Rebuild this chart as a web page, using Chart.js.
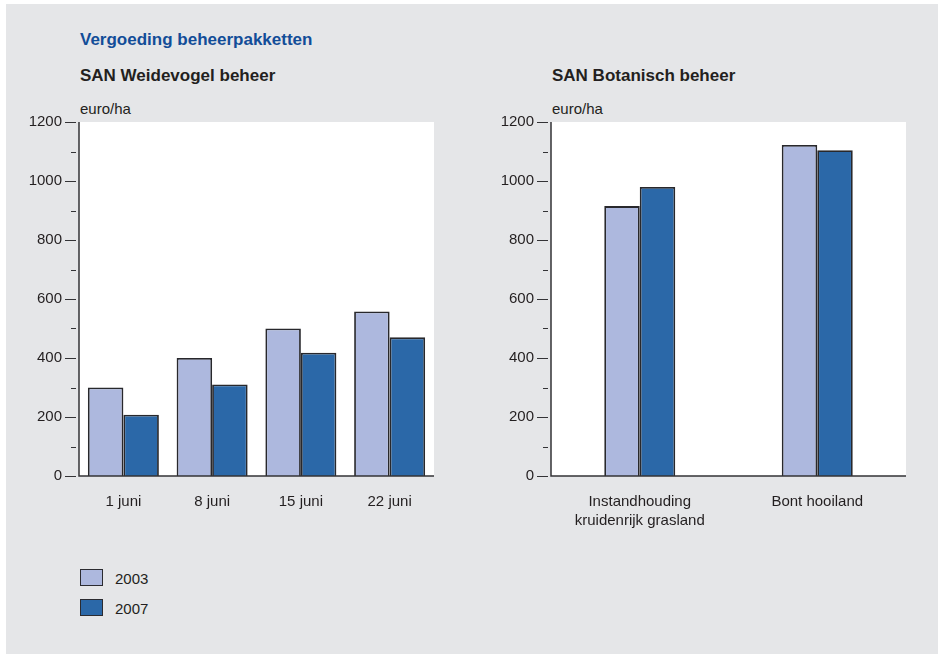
<!DOCTYPE html>
<html>
<head>
<meta charset="utf-8">
<script src="https://cdn.jsdelivr.net/npm/chart.js@4/dist/chart.umd.min.js"></script>
<style>
  body { margin: 0; background: #ffffff; width: 938px; height: 654px; overflow: hidden; font-family: "Liberation Sans", Arial, sans-serif; }
  #panel { position: absolute; left: 6px; top: 4px; width: 932px; height: 650px; background: #e5e6e8; }
  .txt { position: absolute; line-height: 1; white-space: nowrap; color: #231f20; }
  .title { font-size: 17px; font-weight: bold; color: #124d98; }
  .sub { font-size: 17px; font-weight: bold; }
  .unit { font-size: 15px; }
  canvas { position: absolute; }
  .box { position: absolute; width: 21px; height: 15px; border: 1.5px solid #2b2b30; }
</style>
</head>
<body>
<div id="panel"></div>
<div class="txt title" style="left:80px; top:31px;">Vergoeding beheerpakketten</div>
<div class="txt sub" style="left:80px; top:67px;">SAN Weidevogel beheer</div>
<div class="txt sub" style="left:552px; top:67px;">SAN Botanisch beheer</div>
<div class="txt unit" style="left:80px; top:101px;">euro/ha</div>
<div class="txt unit" style="left:552px; top:101px;">euro/ha</div>
<div style="position:absolute; left:0; top:100px; width:470px; height:440px;"><canvas id="weide"></canvas></div>
<div style="position:absolute; left:470px; top:100px; width:468px; height:440px;"><canvas id="bota"></canvas></div>
<div id="legend"></div>

<script>
// data
const years = ['2003', '2007'];
const weideLabels = ['1 juni', '8 juni', '15 juni', '22 juni'];
const weide2003 = [300, 400, 500, 558];
const weide2007 = [208, 310, 418, 470];
const botaLabels = [['Instandhouding', 'kruidenrijk grasland'], 'Bont hooiland'];
const bota2003 = [915, 1122];
const bota2007 = [980, 1104];
const yTicks = [0, 200, 400, 600, 800, 1000, 1200];

const colors = ['#adb8de', '#2b68a8'];
const edge = '#28282c';
const ink = '#231f20';
const font = { family: '"Liberation Sans", Arial, sans-serif', size: 15 };

// white plot area, axis lines and the tick marks (major at 200, minor at 100)
const axisPlugin = {
    id: 'axisPlugin',
    beforeDraw(chart) {
        const a = chart.chartArea, ctx = chart.ctx;
        ctx.save();
        ctx.fillStyle = '#ffffff';
        ctx.fillRect(a.left, a.top, a.right - a.left, a.bottom - a.top);
        ctx.restore();
    },
    afterDraw(chart) {
        const a = chart.chartArea, ctx = chart.ctx, y = chart.scales.y;
        ctx.save();
        ctx.strokeStyle = '#333336';
        ctx.lineWidth = 1.5;
        ctx.beginPath();
        ctx.moveTo(a.left, a.top);
        ctx.lineTo(a.left, a.bottom);
        ctx.lineTo(a.right, a.bottom);
        ctx.stroke();
        ctx.lineWidth = 1;
        for (let v = 0; v <= 1200; v += 100) {
            const py = Math.round(y.getPixelForValue(v)) + 0.5;
            const len = v % 200 === 0 ? 11 : 5;
            ctx.beginPath();
            ctx.moveTo(a.left - 3 - len, py);
            ctx.lineTo(a.left - 3, py);
            ctx.stroke();
        }
        ctx.restore();
    }
};

function makeChart(id, labels, s2003, s2007, catPct, yWidth, padRight) {
    return new Chart(document.getElementById(id), {
        type: 'bar',
        data: {
            labels: labels,
            datasets: [
                { label: years[0], data: s2003, backgroundColor: colors[0], borderColor: edge, borderWidth: 1.8 },
                { label: years[1], data: s2007, backgroundColor: colors[1], borderColor: edge, borderWidth: 1.8 }
            ]
        },
        options: {
            responsive: true,
            maintainAspectRatio: false,
            animation: false,
            layout: { padding: { top: 22, right: padRight, bottom: 0, left: 0 } },
            plugins: { legend: { display: false }, tooltip: { enabled: false } },
            datasets: { bar: { barPercentage: 1, categoryPercentage: catPct } },
            scales: {
                x: {
                    grid: { display: false },
                    border: { display: false },
                    ticks: { color: ink, font: { ...font, lineHeight: 1.3 }, padding: 8, maxRotation: 0 },
                    afterFit(s) { s.height = 64; }
                },
                y: {
                    min: 0,
                    max: 1200,
                    afterBuildTicks(s) { s.ticks = yTicks.map(v => ({ value: v })); },
                    grid: { display: false, drawTicks: false },
                    border: { display: false },
                    ticks: { color: ink, font: font, padding: 17, callback: v => String(v) },
                    afterFit(s) {
                        s.width = yWidth;
                        // keep the plot top where the padding puts it
                        s.paddingTop = 0;
                        s.paddingBottom = 0;
                    }
                }
            }
        },
        plugins: [axisPlugin]
    });
}

makeChart('weide', weideLabels, weide2003, weide2007, 0.8, 79, 36);
makeChart('bota', botaLabels, bota2003, bota2007, 0.4, 81, 32);

// legend built from the series names and colours
const legend = document.getElementById('legend');
years.forEach((yr, i) => {
    const top = 569 + i * 30;
    legend.innerHTML += `<div class="box" style="left:80px; top:${top}px; background:${colors[i]}"></div>` +
        `<div class="txt unit" style="left:115px; top:${top + 2}px;">${yr}</div>`;
});
</script>
</body>
</html>
